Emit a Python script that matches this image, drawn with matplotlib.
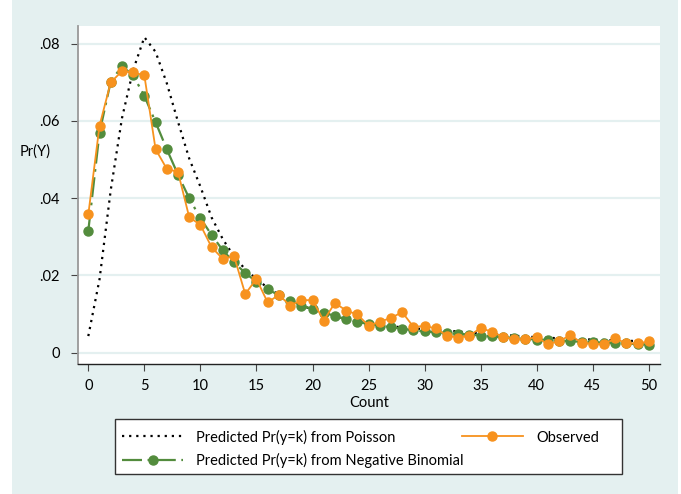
import numpy as np
import matplotlib.pyplot as plt
from matplotlib.patches import Rectangle

counts = np.arange(0, 51)

observed = [0.0358, 0.0588, 0.0700, 0.0729, 0.0726, 0.0718, 0.0527, 0.0476, 0.0468, 0.0351,
            0.0331, 0.0273, 0.0243, 0.0250, 0.0152, 0.0191, 0.0130, 0.0150, 0.0122, 0.0136,
            0.0136, 0.0083, 0.0129, 0.0109, 0.0099, 0.0070, 0.0080, 0.0090, 0.0105, 0.0067,
            0.0069, 0.0063, 0.0044, 0.0039, 0.0044, 0.0064, 0.0054, 0.0041, 0.0035, 0.0035,
            0.0040, 0.0022, 0.0030, 0.0045, 0.0026, 0.0023, 0.0022, 0.0037, 0.0024, 0.0024,
            0.0029]

negbin = [0.0316, 0.0570, 0.0702, 0.0742, 0.0718, 0.0665, 0.0597, 0.0527, 0.0461, 0.0400,
          0.0348, 0.0305, 0.0265, 0.0234, 0.0206, 0.0184, 0.0164, 0.0149, 0.0135, 0.0122,
          0.0113, 0.0104, 0.0095, 0.0086, 0.0080, 0.0074, 0.0070, 0.0066, 0.0062, 0.0058,
          0.0055, 0.0053, 0.0051, 0.0049, 0.0047, 0.0044, 0.0042, 0.0040, 0.0038, 0.0036,
          0.0034, 0.0033, 0.0031, 0.0030, 0.0028, 0.0027, 0.0026, 0.0025, 0.0024, 0.0022,
          0.0021]

poisson = [0.0043, 0.0190, 0.0421, 0.0607, 0.0732, 0.0817, 0.0779, 0.0698, 0.0598, 0.0503,
           0.0430, 0.0350, 0.0294, 0.0249, 0.0216, 0.0191, 0.0168, 0.0150, 0.0135, 0.0122,
           0.0112, 0.0102, 0.0094, 0.0087, 0.0081, 0.0074, 0.0071, 0.0068, 0.0066, 0.0063,
           0.0061, 0.0059, 0.0057, 0.0055, 0.0052, 0.0050, 0.0048, 0.0046, 0.0044, 0.0042,
           0.0040, 0.0039, 0.0037, 0.0036, 0.0035, 0.0034, 0.0033, 0.0032, 0.0031, 0.0030,
           0.0029]

yticks = [0, 0.02, 0.04, 0.06, 0.08]
ytick_labels = ["0", ".02", ".04", ".06", ".08"]
xticks = list(range(0, 51, 5))

bg = "#e4f0f0"
orange = "#f7921e"
green = "#538c3d"

plt.rcParams["font.family"] = ["Lato", "DejaVu Sans"]

W, H = 681, 494
fig = plt.figure(figsize=(6.81, 4.94), dpi=100, facecolor="white")
# teal panel (image has thin white margins at the sides)
fig.patches.append(Rectangle((12 / W, 0), 666 / W, 1, transform=fig.transFigure,
                             facecolor=bg, edgecolor="none", zorder=-10))

ax = fig.add_axes([78 / W, 1 - 364 / H, 582 / W, 338 / H])
ax.set_facecolor("white")

for y in yticks:
    ax.axhline(y, color=bg, lw=1.6, zorder=0)

ax.plot(counts, poisson, color="black", ls=(0, (1, 2.2)), lw=1.6,
        label="Predicted Pr(y=k) from Poisson", zorder=2)
ax.plot(counts, negbin, color=green, ls=(0, (9, 2.5, 1.2, 2.5)), lw=1.6,
        marker="o", ms=6.5, mec=green, mfc=green,
        label="Predicted Pr(y=k) from Negative Binomial", zorder=3)
ax.plot(counts, observed, color=orange, lw=1.3, marker="o", ms=6.5,
        mec=orange, mfc=orange, label="Observed", zorder=4)

ax.set_xlim(-0.92, 51.0)
ax.set_ylim(-0.00293, 0.0846)
ax.set_xticks(xticks)
ax.set_yticks(yticks)
ax.set_yticklabels(ytick_labels)
ax.tick_params(axis="both", direction="out", length=5, color="#444444",
               labelsize=10.5, colors="black")
ax.tick_params(axis="y", pad=8)
ax.tick_params(axis="x", pad=6)

for s in ["top", "right"]:
    ax.spines[s].set_visible(False)
ax.spines["left"].set_color("#999999")
ax.spines["left"].set_linewidth(1.3)
ax.spines["bottom"].set_color("#222222")
ax.spines["bottom"].set_linewidth(1.0)

ax.set_xlabel("Count", fontsize=10.5, labelpad=2)
fig.text(20 / W, 1 - 152 / H, "Pr(Y)", fontsize=10.5, va="center", ha="left")

# legend box drawn separately, entries placed inside
fig.patches.append(Rectangle((115 / W, 1 - 474 / H), 507 / W, 55 / H,
                             transform=fig.transFigure, facecolor="white",
                             edgecolor="#333333", lw=1.0, zorder=1))
h, l = ax.get_legend_handles_labels()
leg = fig.legend(h, l, ncol=2, loc="upper left",
                 bbox_to_anchor=(122 / W, 1 - 429.5 / H),
                 fontsize=10.5, frameon=False, borderpad=0, borderaxespad=0,
                 handlelength=4.2, labelspacing=0.6,
                 handletextpad=0.9, columnspacing=-0.14)
leg.set_zorder(2)

fig.savefig("out.png", dpi=100)
